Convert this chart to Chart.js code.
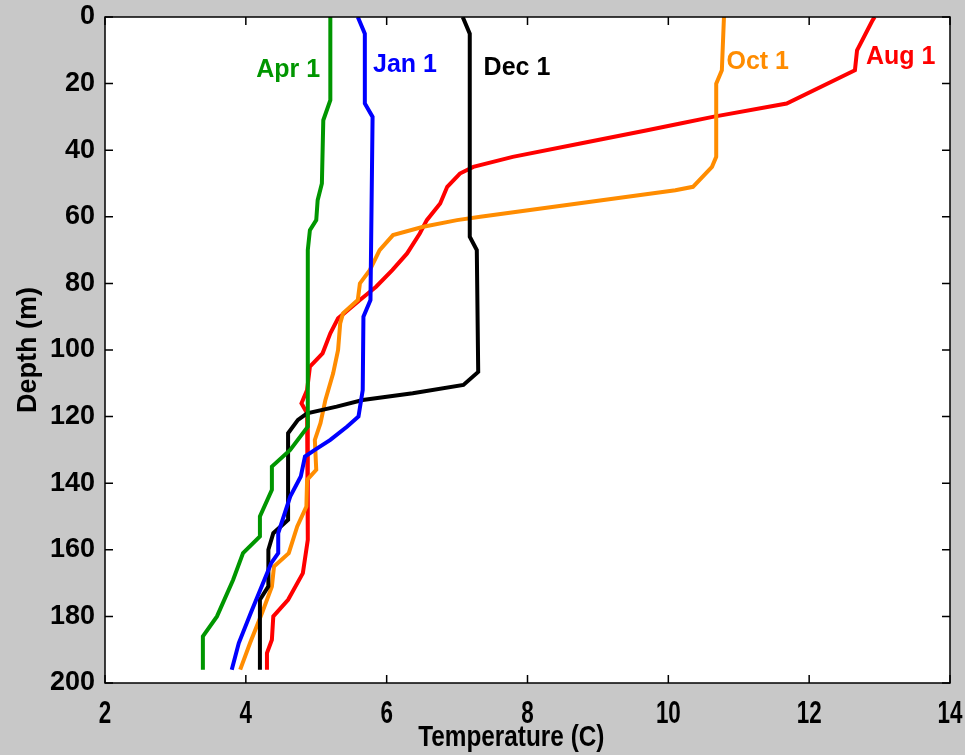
<!DOCTYPE html>
<html>
<head>
<meta charset="utf-8">
<title>Temperature profiles</title>
<script src="https://cdn.jsdelivr.net/npm/chart.js@4/dist/chart.umd.min.js"></script>
<style>
  html, body { margin: 0; padding: 0; background: #c8c8c8; }
  #wrap { width: 965px; height: 755px; }
</style>
</head>
<body>
<div id="wrap"><canvas id="profileChart" width="965" height="755"></canvas></div>
<script>
// profile dates, one line each
const seriesNames = ['Apr 1', 'Jan 1', 'Dec 1', 'Oct 1', 'Aug 1'];

// depth (m) and temperature (C) along each profile
const aprDepth = [0, 25, 31, 50, 55, 61, 64, 70, 123, 130, 135, 142, 150, 156, 161, 169, 180, 186, 196];
const aprTemp  = [5.20, 5.20, 5.10, 5.08, 5.02, 5.00, 4.91, 4.88, 4.88, 4.63, 4.37, 4.37, 4.20, 4.20, 3.96, 3.82, 3.59, 3.39, 3.39];

const janDepth = [0, 5, 26, 30, 85, 90, 112, 120, 123, 127, 130, 132, 138, 144, 155, 161, 164, 179, 188, 196];
const janTemp  = [5.59, 5.69, 5.69, 5.80, 5.77, 5.67, 5.66, 5.60, 5.44, 5.20, 4.98, 4.84, 4.78, 4.63, 4.46, 4.46, 4.36, 4.07, 3.90, 3.80];

const decDepth = [0, 5, 66, 70, 106.6, 110.5, 113, 115, 117, 119, 121, 125, 151, 155, 160, 171, 175, 196];
const decTemp  = [7.08, 7.18, 7.18, 7.28, 7.30, 7.09, 6.37, 5.66, 5.29, 4.87, 4.74, 4.60, 4.60, 4.39, 4.32, 4.32, 4.20, 4.20];

const octDepth = [0, 16, 20, 42, 45, 51, 52, 60, 61, 63, 65.5, 70, 76, 80, 85, 89, 92, 100, 107, 115, 122, 127, 136, 139, 147, 153, 161, 165, 171, 179, 188, 196];
const octTemp  = [10.79, 10.76, 10.68, 10.68, 10.62, 10.35, 10.10, 7.33, 7.00, 6.52, 6.09, 5.90, 5.76, 5.62, 5.59, 5.38, 5.34, 5.31, 5.24, 5.13, 5.06, 4.98, 5.00, 4.87, 4.86, 4.73, 4.61, 4.40, 4.37, 4.23, 4.06, 3.92];

const augDepth = [0, 1, 10, 16, 26, 30, 32, 34, 38, 42, 45, 47, 51, 56, 61, 65, 71, 76, 81, 85, 90.5, 95, 101, 105, 112, 116, 119, 127, 157, 167, 175, 180, 187, 191, 196];
const augTemp  = [12.93, 12.90, 12.68, 12.65, 11.68, 10.63, 10.17, 9.70, 8.75, 7.79, 7.23, 7.04, 6.86, 6.76, 6.57, 6.47, 6.29, 6.08, 5.85, 5.62, 5.31, 5.20, 5.09, 4.91, 4.87, 4.79, 4.87, 4.88, 4.88, 4.81, 4.60, 4.39, 4.37, 4.30, 4.30];

// axis ticks
const xTickValues = [2, 4, 6, 8, 10, 12, 14];
const xTickLabels = ['2', '4', '6', '8', '10', '12', '14'];
const yTickValues = [0, 20, 40, 60, 80, 100, 120, 140, 160, 180, 200];
const yTickLabels = ['0', '20', '40', '60', '80', '100', '120', '140', '160', '180', '200'];
const xTitle = 'Temperature (C)';

const colors = ['#009600', '#0000ff', '#000000', '#ff8c00', '#ff0000'];

// where each date label sits, in temperature / depth
const labelSpots = [[4.6, 15.9], [6.26, 14.4], [7.85, 15.3], [11.27, 13.5], [13.3, 12.0]];

function toPoints(temps, depths) {
  return temps.map((t, i) => ({ x: t, y: depths[i] }));
}

const profiles = [
  toPoints(aprTemp, aprDepth),
  toPoints(janTemp, janDepth),
  toPoints(decTemp, decDepth),
  toPoints(octTemp, octDepth),
  toPoints(augTemp, augDepth)
];

// text squeezed sideways, the x axis uses a narrow face
function narrowText(c, text, x, y, squeeze) {
  c.save();
  c.translate(x, y);
  c.scale(squeeze, 1);
  c.fillText(text, 0, 0);
  c.restore();
}

// white plot box, black frame, ticks pointing inward, x labels, date labels
const framePlugin = {
  id: 'frame',
  beforeDraw(chart) {
    const a = chart.chartArea;
    const c = chart.ctx;
    c.save();
    c.fillStyle = '#ffffff';
    c.fillRect(a.left, a.top, a.right - a.left, a.bottom - a.top);
    c.restore();
  },
  afterDraw(chart) {
    const a = chart.chartArea;
    const c = chart.ctx;
    const xs = chart.scales.x;
    const ys = chart.scales.y;
    c.save();
    c.strokeStyle = '#000000';
    c.lineWidth = 1.5;
    c.strokeRect(a.left, a.top, a.right - a.left, a.bottom - a.top);
    c.beginPath();
    xs.ticks.forEach(t => {
      const px = xs.getPixelForValue(t.value);
      c.moveTo(px, a.bottom); c.lineTo(px, a.bottom - 8);
      c.moveTo(px, a.top); c.lineTo(px, a.top + 8);
    });
    ys.ticks.forEach(t => {
      const py = ys.getPixelForValue(t.value);
      c.moveTo(a.left, py); c.lineTo(a.left + 8, py);
      c.moveTo(a.right, py); c.lineTo(a.right - 8, py);
    });
    c.stroke();

    // x tick labels and axis title
    c.fillStyle = '#000000';
    c.textAlign = 'center';
    c.textBaseline = 'alphabetic';
    c.font = 'bold 32px "Liberation Sans", Arial, sans-serif';
    xTickValues.forEach((v, i) => {
      narrowText(c, xTickLabels[i], xs.getPixelForValue(v), a.bottom + 40, 0.7);
    });
    c.font = 'bold 29px "Liberation Sans", Arial, sans-serif';
    narrowText(c, xTitle, xs.getPixelForValue(7.77), a.bottom + 63, 0.84);

    c.font = 'bold 25px "Liberation Sans", Arial, sans-serif';
    c.textBaseline = 'middle';
    seriesNames.forEach((name, i) => {
      c.fillStyle = colors[i];
      c.fillText(name, xs.getPixelForValue(labelSpots[i][0]), ys.getPixelForValue(labelSpots[i][1]));
    });
    c.restore();
  }
};

new Chart(document.getElementById('profileChart'), {
  type: 'scatter',
  data: {
    datasets: profiles.map((pts, i) => ({
      label: seriesNames[i],
      data: pts,
      showLine: true,
      borderColor: colors[i],
      backgroundColor: colors[i],
      borderWidth: 4,
      pointRadius: 0,
      tension: 0
    }))
  },
  options: {
    responsive: false,
    animation: false,
    layout: { padding: { top: 17, right: 15, left: 0, bottom: 0 } },
    plugins: {
      legend: { display: false },
      tooltip: { enabled: false }
    },
    scales: {
      x: {
        type: 'linear',
        min: 2,
        max: 14,
        grid: { display: false, drawTicks: false },
        border: { display: false },
        afterFit: scale => {
          scale.height = 72;
          scale.paddingLeft = 0;
          scale.paddingRight = 0;
        },
        ticks: {
          stepSize: 2,
          display: false
        }
      },
      y: {
        type: 'linear',
        reverse: true,
        min: 0,
        max: 200,
        grid: { display: false, drawTicks: false },
        border: { display: false },
        afterFit: scale => {
          scale.width = 105;
          scale.paddingTop = 0;
          scale.paddingBottom = 0;
        },
        ticks: {
          stepSize: 20,
          padding: 10,
          color: '#000000',
          font: { family: '"Liberation Sans", Arial, sans-serif', size: 27, weight: 'bold' },
          callback: v => yTickLabels[yTickValues.indexOf(v)]
        },
        title: {
          display: true,
          text: 'Depth (m)',
          color: '#000000',
          padding: { top: 12, bottom: 0 },
          font: { family: '"Liberation Sans", Arial, sans-serif', size: 27, weight: 'bold' }
        }
      }
    }
  },
  plugins: [framePlugin]
});
</script>
</body>
</html>
